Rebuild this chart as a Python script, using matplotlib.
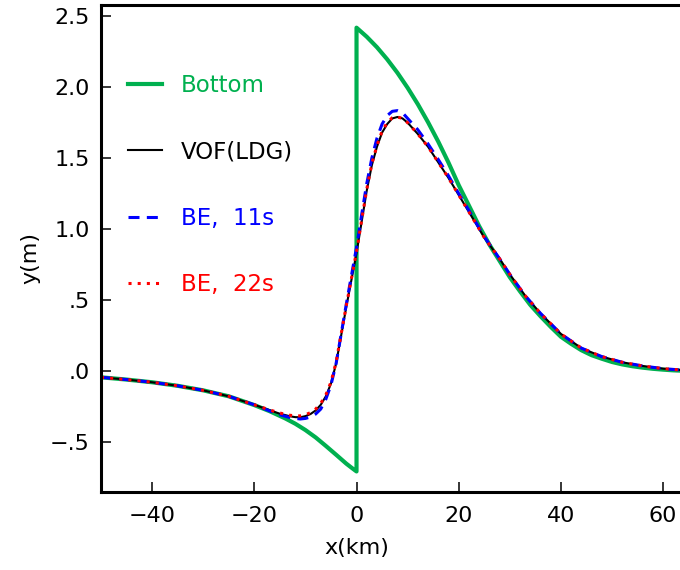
import matplotlib
matplotlib.use("Agg")
import matplotlib.pyplot as plt

# ---------------- data ----------------
bottom_x = [-50, -45, -40, -35, -30, -25, -20, -17, -14, -12, -10, -8, -6, -4, -2, -1, 0, 0,
            2, 4, 6, 8, 10, 12, 14, 16, 18, 20, 22, 24, 26, 28, 30, 32, 34, 36, 38, 40,
            42, 44, 46, 48, 50, 52, 54, 56, 58, 60, 62, 64]
bottom_y = [-0.046, -0.062, -0.081, -0.106, -0.138, -0.18, -0.242, -0.285, -0.335, -0.373,
            -0.418, -0.47, -0.53, -0.592, -0.655, -0.683, -0.71, 2.42,
            2.356, 2.282, 2.197, 2.102, 1.996, 1.88, 1.753, 1.616, 1.468, 1.309, 1.165,
            1.02, 0.89, 0.775, 0.66, 0.56, 0.465, 0.385, 0.31, 0.24, 0.19, 0.145,
            0.11, 0.085, 0.062, 0.045, 0.032, 0.022, 0.014, 0.008, 0.003, 0.0]

wave_x = [-50, -45, -40, -35, -30, -25, -20, -17, -15, -13, -12, -11, -10, -9, -8, -7,
          -6, -5, -4, -3, -2, -1, 0, 1, 2, 3, 4, 5, 6, 7, 8, 9, 10, 12, 14, 16, 18, 20,
          22, 25, 28, 30, 33, 36, 40, 44, 48, 52, 56, 60, 64]
vof_y = [-0.046, -0.062, -0.081, -0.106, -0.138, -0.18, -0.24, -0.278, -0.303, -0.321,
         -0.327, -0.328, -0.32, -0.305, -0.28, -0.24, -0.18, -0.09, 0.05, 0.25, 0.45,
         0.64, 0.83, 1.05, 1.27, 1.45, 1.58, 1.68, 1.74, 1.78, 1.79, 1.78, 1.75, 1.67,
         1.58, 1.47, 1.36, 1.24, 1.12, 0.94, 0.79, 0.68, 0.53, 0.405, 0.26, 0.16,
         0.1, 0.06, 0.034, 0.015, 0.004]
be11_y = [-0.046, -0.062, -0.081, -0.106, -0.138, -0.18, -0.24, -0.283, -0.31, -0.33,
          -0.336, -0.34, -0.336, -0.326, -0.305, -0.27, -0.2, -0.1, 0.05, 0.26, 0.47,
          0.67, 0.87, 1.10, 1.32, 1.50, 1.64, 1.74, 1.80, 1.83, 1.835, 1.82, 1.78, 1.70,
          1.60, 1.49, 1.375, 1.25, 1.13, 0.945, 0.79, 0.68, 0.53, 0.405, 0.26, 0.16,
          0.1, 0.06, 0.034, 0.015, 0.004]
be22_y = [-0.046, -0.062, -0.081, -0.106, -0.138, -0.18, -0.24, -0.276, -0.298, -0.314,
          -0.318, -0.318, -0.31, -0.295, -0.27, -0.23, -0.17, -0.08, 0.06, 0.26, 0.46,
          0.65, 0.84, 1.06, 1.28, 1.46, 1.59, 1.69, 1.75, 1.785, 1.79, 1.78, 1.75, 1.67,
          1.58, 1.47, 1.36, 1.24, 1.12, 0.94, 0.79, 0.68, 0.53, 0.405, 0.26, 0.16,
          0.1, 0.06, 0.034, 0.015, 0.004]

labels = ["Bottom", "VOF(LDG)", "BE,  11s", "BE,  22s"]
colors = ["#00b04f", "black", "#0000ff", "#ff0000"]

xticks = [-40, -20, 0, 20, 40, 60]
xticklabels = ["\u221240", "\u221220", "0", "20", "40", "60"]
yticks = [-0.5, 0.0, 0.5, 1.0, 1.5, 2.0, 2.5]
yticklabels = ["\u2212.5", ".0", ".5", "1.0", "1.5", "2.0", "2.5"]

# ---------------- figure ----------------
plt.rcParams['font.family'] = ['DejaVu Sans']
fig = plt.figure(figsize=(6.8, 5.7), dpi=100)
ax = fig.add_axes([101 / 680, 1 - 492 / 570, 1 - 101 / 680, (492 - 5) / 570])

ax.plot(bottom_x, bottom_y, color=colors[0], lw=3.0, label=labels[0])
ax.plot(wave_x, vof_y, color=colors[1], lw=1.5, label=labels[1])
ax.plot(wave_x, be11_y, color=colors[2], lw=2.2, ls=(0, (3.6, 2.4)), label=labels[2])
ax.plot(wave_x, be22_y, color=colors[3], lw=2.2, ls=(0, (1.0, 2.0)), label=labels[3])

ax.set_xlim(-50, 63.3)
ax.set_ylim(-0.855, 2.58)
ax.set_xticks(xticks)
ax.set_xticklabels(xticklabels)
ax.set_yticks(yticks)
ax.set_yticklabels(yticklabels)

for s in ["left", "bottom", "top"]:
    ax.spines[s].set_linewidth(2.2)
ax.spines["right"].set_visible(False)
ax.tick_params(direction="in", length=7.5, width=1.1, labelsize=16)
ax.tick_params(axis="y", pad=8)
ax.tick_params(axis="x", pad=10)

ax.set_xlabel("x(km)", fontsize=16)
ax.set_ylabel("y(m)", fontsize=16)
ax.xaxis.set_label_coords(0.442, -0.094)
ax.yaxis.set_label_coords(-0.105, 0.48)

leg = ax.legend(loc="upper left", bbox_to_anchor=(0.0466, 0.8575), frameon=False,
                fontsize=16.5, handlelength=1.48, handletextpad=0.83,
                labelspacing=1.88, borderaxespad=0.0, borderpad=0.0)
for txt, c in zip(leg.get_texts(), colors):
    txt.set_color(c)

fig.savefig("out.png", dpi=100)
